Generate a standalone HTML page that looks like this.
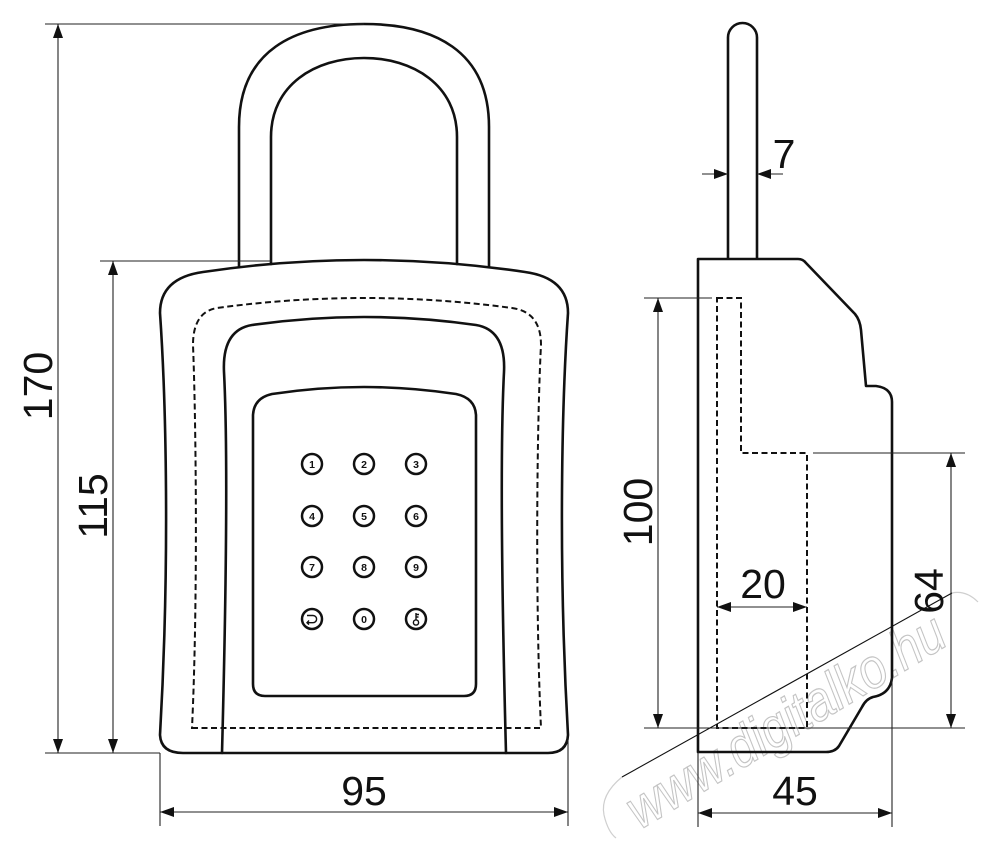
<!DOCTYPE html>
<html><head><meta charset="utf-8"><style>
html,body{margin:0;padding:0;background:#fff;}
svg{display:block;}
text{font-family:"Liberation Sans",Arial,sans-serif;}
</style></head><body>
<svg width="987" height="850" viewBox="0 0 987 850" xmlns="http://www.w3.org/2000/svg">
<rect width="987" height="850" fill="#fff"/>

<!-- watermark -->
<g fill="none" stroke="#cfcfcf" stroke-width="1.2">
  <text x="0" y="0" transform="translate(640,830) rotate(-31)" font-size="56" font-style="italic" textLength="362" lengthAdjust="spacingAndGlyphs" fill="#fff" stroke="#c4c4c4">www.digitalko.hu</text>
  <path d="M622 777 Q600 795 604 815 Q608 832 616 838"/>
  <path d="M952 593 Q966 590 978 602"/>
</g>

<!-- FRONT VIEW -->
<g fill="none" stroke="#111" stroke-width="2.6" stroke-linejoin="round" stroke-linecap="round">
  <!-- shackle -->
  <path d="M239 267 V127 C239 50 295 24 364 24 C433 24 489 50 489 127 V267"/>
  <path d="M271 264 V137 C271 85 315 58 364 58 C413 58 457 85 457 137 V264"/>
  <!-- body outer -->
  <path d="M160 313 Q160 278 203 272 Q364 248 525 272 Q568 278 568 313 C562 400 558 560 568 735 Q567 753 548 753 H183 Q161 753 160 735 C170 560 166 400 160 313 Z"/>
  <!-- inner frame -->
  <path d="M222 753 C226 600 228 450 224 372 Q222 330 252 325 Q364 309 476 325 Q506 330 504 372 C500 450 502 600 506 753"/>
  <!-- keypad panel -->
  <path d="M253 415 Q254 398 272 394 Q364 380 456 394 Q475 398 476 415 V684 Q476 696 464 696 H265 Q253 696 253 684 Z"/>
</g>
<!-- dashed outline front -->
<path d="M192 728 L541 728 C535 600 537 420 541 345 Q541 312 512 308 Q364 288 217 308 Q193 312 193 345 C196 420 198 600 192 728 Z" fill="none" stroke="#111" stroke-width="2" stroke-dasharray="6 3.5"/>

<!-- keypad buttons -->
<g fill="none" stroke="#111" stroke-width="2.5">
  <circle cx="312" cy="464" r="10"/><circle cx="364" cy="464" r="10"/><circle cx="416" cy="464" r="10"/>
  <circle cx="312" cy="516" r="10"/><circle cx="364" cy="516" r="10"/><circle cx="416" cy="516" r="10"/>
  <circle cx="312" cy="567" r="10"/><circle cx="364" cy="567" r="10"/><circle cx="416" cy="567" r="10"/>
  <circle cx="312" cy="619" r="10"/><circle cx="364" cy="619" r="10"/><circle cx="416" cy="619" r="10"/>
</g>
<g font-size="10.5" font-weight="bold" text-anchor="middle" fill="#111">
  <text x="312" y="468">1</text><text x="364" y="468">2</text><text x="416" y="468">3</text>
  <text x="312" y="520">4</text><text x="364" y="520">5</text><text x="416" y="520">6</text>
  <text x="312" y="571">7</text><text x="364" y="571">8</text><text x="416" y="571">9</text>
  <text x="364" y="623">0</text>
</g>
<g fill="none" stroke="#111" stroke-width="1.4">
  <path d="M307 615.5 H313 A3.6 3.6 0 0 1 313 622.7 H307"/>
  <path d="M309 620.5 L307 622.7 L309 624.6"/>
  <circle cx="416" cy="622.5" r="2.6"/>
  <path d="M416 620 V613 M416 614.5 H419 M416 617 H418.5"/>
</g>

<!-- front dimensions -->
<g stroke="#222" stroke-width="1.1" fill="none">
  <line x1="45" y1="24" x2="364" y2="24"/>
  <line x1="45" y1="753" x2="160" y2="753"/>
  <line x1="58" y1="24" x2="58" y2="753"/>
  <line x1="100" y1="261" x2="272" y2="261"/>
  <line x1="113" y1="261" x2="113" y2="753"/>
  <line x1="160" y1="753" x2="160" y2="826"/>
  <line x1="568" y1="740" x2="568" y2="826"/>
  <line x1="160" y1="812" x2="568" y2="812"/>
</g>
<g fill="#111">
  <polygon points="58,24 53,38 63,38"/>
  <polygon points="58,753 53,739 63,739"/>
  <polygon points="113,261 108,275 118,275"/>
  <polygon points="113,753 108,739 118,739"/>
  <polygon points="160,812 174,807 174,817"/>
  <polygon points="568,812 554,807 554,817"/>
</g>
<g font-size="41" fill="#111" text-anchor="middle">
  <text transform="translate(52,386) rotate(-90)">170</text>
  <text transform="translate(107,506) rotate(-90)">115</text>
  <text x="364" y="805">95</text>
</g>

<!-- SIDE VIEW -->
<g fill="none" stroke="#111" stroke-width="2.6" stroke-linejoin="round">
  <path d="M728 259 V37.5 A14.5 14.5 0 0 1 757 37.5 V259"/>
  <path d="M698 752 V259 H798 Q803 259 806 263 L855 314 Q860 320 861 330 L866 386 H876 Q892 388 892 402 V678 Q890 694 873 697 Q866 699 862 707 L839 746 Q835 752 826 752 Z"/>
</g>
<path d="M717 298 H741 V453 H807 V728 H717 Z" fill="none" stroke="#111" stroke-width="2" stroke-dasharray="6 3.5"/>

<!-- side dimensions -->
<g stroke="#222" stroke-width="1.1" fill="none">
  <line x1="702" y1="174" x2="728" y2="174"/>
  <line x1="757" y1="174" x2="783" y2="174"/>
  <line x1="644" y1="298" x2="712" y2="298"/>
  <line x1="658" y1="298" x2="658" y2="728"/>
  <line x1="644" y1="728" x2="965" y2="728"/>
  <line x1="813" y1="453" x2="965" y2="453"/>
  <line x1="951" y1="453" x2="951" y2="728"/>
  <line x1="717" y1="607" x2="807" y2="607"/>
  <line x1="698" y1="752" x2="698" y2="827"/>
  <line x1="892" y1="678" x2="892" y2="827"/>
  <line x1="698" y1="813" x2="892" y2="813"/>
</g>
<g fill="#111">
  <polygon points="728,174 714,169 714,179"/>
  <polygon points="757,174 771,169 771,179"/>
  <polygon points="658,298 653,312 663,312"/>
  <polygon points="658,728 653,714 663,714"/>
  <polygon points="951,453 946,467 956,467"/>
  <polygon points="951,728 946,714 956,714"/>
  <polygon points="717,607 731,602 731,612"/>
  <polygon points="807,607 793,602 793,612"/>
  <polygon points="698,813 712,808 712,818"/>
  <polygon points="892,813 878,808 878,818"/>
</g>
<g font-size="41" fill="#111" text-anchor="middle">
  <text x="784" y="168">7</text>
  <text transform="translate(652,512) rotate(-90)">100</text>
  <text transform="translate(943,591) rotate(-90)">64</text>
  <text x="763" y="598">20</text>
  <text x="795" y="805">45</text>
</g>

<!-- watermark swoosh line -->
<line x1="622" y1="777" x2="952" y2="593" stroke="#111" stroke-width="1.1"/>
</svg>
</body></html>
